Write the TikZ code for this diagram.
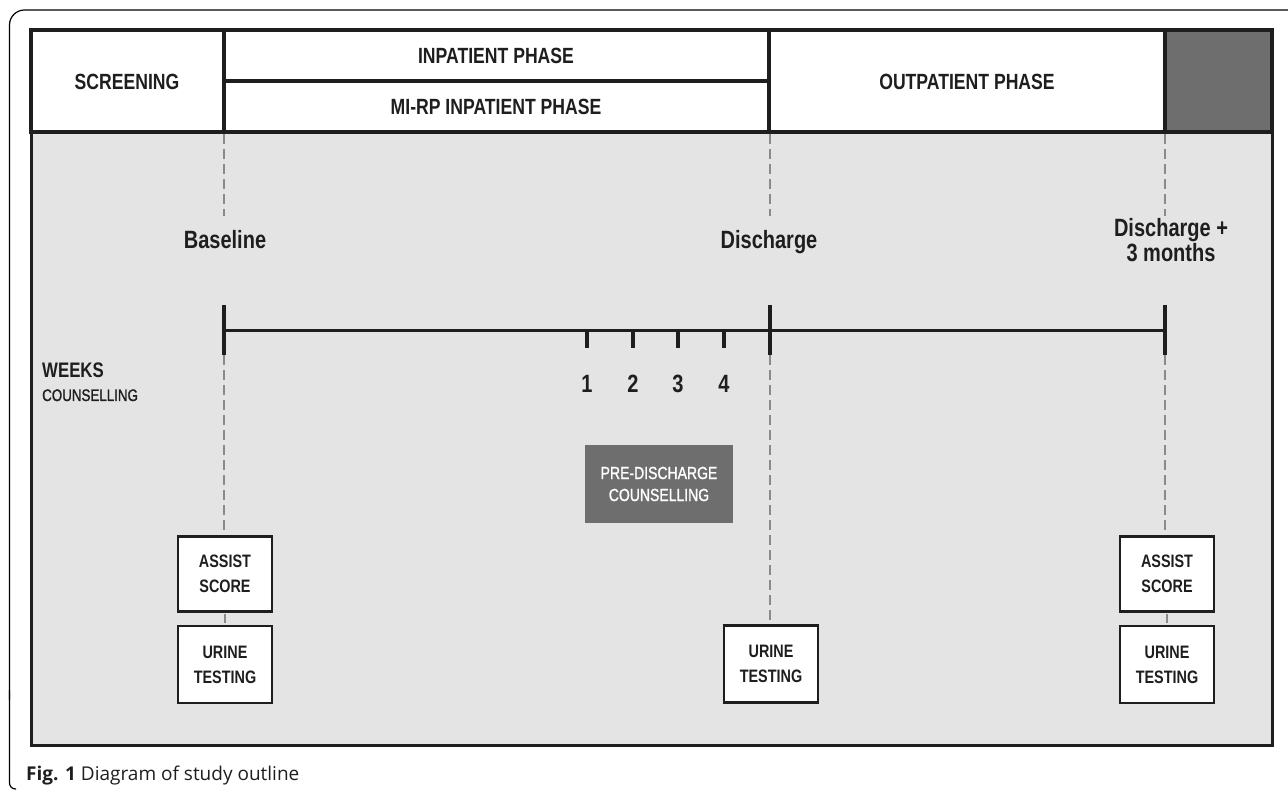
\documentclass[tikz,border=0pt]{standalone}
\usepackage{fontspec}
\setmainfont{Liberation Sans}[FakeStretch=0.8]
\newfontfamily\mediumfont{Liberation Sans}[FakeStretch=0.8,FakeBold=1.2]
\newfontfamily\captionfont{Open Sans}
\usetikzlibrary{positioning}
\definecolor{panel}{HTML}{E4E4E4}
\definecolor{darkcell}{HTML}{6E6E6E}
\definecolor{guidegray}{HTML}{8A8A8A}
\definecolor{ink}{HTML}{1E1E1E}

\begin{document}
\begin{tikzpicture}[x=1pt,y=-1pt,
  headtext/.style={anchor=base,text=ink,font=\fontsize{22}{26}\selectfont\bfseries},
  milestone/.style={anchor=base,align=center,text=ink,font=\fontsize{25}{25}\selectfont\bfseries},
  weeknum/.style={anchor=base,text=ink,font=\fontsize{25}{28}\selectfont\bfseries},
  testbox/.style={draw=ink,line width=2.8pt,fill=white,minimum width=94pt,minimum height=75pt,
    align=center,text=ink,font=\fontsize{18}{25}\selectfont\bfseries},
  guide/.style={draw=guidegray,line width=2pt,dash pattern=on 10pt off 5pt}]
\useasboundingbox (0,0) rectangle (1288,791);

% page frame
\draw[line width=1.2pt,rounded corners=15pt] (1288,10) -- (9.5,10) -- (9.5,700);
\draw[line width=1.2pt,rounded corners=6pt] (9.5,690) -- (9.5,789) -- (16,789);

% panels
\fill[panel] (31,132) rectangle (1272,745);
\fill[white] (31,30) rectangle (1165,132);
\fill[darkcell] (1165,30) rectangle (1272,132);
\draw[ink,line width=3pt] (31,132) rectangle (1272,745);
\draw[ink,line width=4pt] (31,30) rectangle (1272,132)
  (224,30) -- (224,132) (769,30) -- (769,132) (1165,30) -- (1165,132)
  (224,81) -- (769,81);

% phase headings
\node[headtext] (screen) at (127,90) {SCREENING};
\node[headtext] (inpat) at (496,64) {INPATIENT PHASE};
\node[headtext] (mirp) at (496,115) {MI-RP INPATIENT PHASE};
\node[headtext] (outpat) at (967,90) {OUTPATIENT PHASE};

% milestones
\node[milestone] (baseline) at (225,249) {Baseline};
\node[milestone] (discharge) at (769,249) {Discharge};
\node[milestone] (followup) at (1171,262) {Discharge +\\3 months};

% timeline
\coordinate (tBase) at (224,331);
\coordinate (tDis) at (770,331);
\coordinate (tEnd) at (1165,331);
\draw[ink,line width=3pt] (tBase) -- (tEnd);
\foreach \c in {tBase,tDis,tEnd}
  \draw[ink,line width=4.5pt] (\c) ++(0,-26) -- ++(0,50);
\foreach \x/\n in {587/1,633/2,678/3,724/4}{
  \draw[ink,line width=4pt] (\x,331) -- (\x,348);
  \node[weeknum] (wk\n) at (\x,393) {\n};
}

% row labels
\node[anchor=base west,inner sep=0,text=ink,font=\fontsize{21}{24}\selectfont\bfseries] (weeks) at (42,378) {WEEKS};
\node[anchor=base west,inner sep=0,text=ink,font=\mediumfont\fontsize{16.7}{20}\selectfont] (counsel) at (42,401) {COUNSELLING};

% counselling block
\node[fill=darkcell,minimum width=148pt,minimum height=78pt,align=center,text=white,
  font=\mediumfont\fontsize{17.5}{22}\selectfont] (predis) at (659,484) {PRE-DISCHARGE\\COUNSELLING};

% guides above the timeline
\draw[guide] (224,134) -- (224,216) (770,134) -- (770,216) (1165,134) -- (1165,216);

% assessments
\node[testbox] (assistA) at (225,574) {ASSIST\\SCORE};
\node[testbox,minimum height=77pt] (urineA) at (225,664.5) {URINE\\TESTING};
\node[testbox,minimum height=77pt] (urineB) at (771,664) {URINE\\TESTING};
\node[testbox] (assistC) at (1167,574) {ASSIST\\SCORE};
\node[testbox,minimum height=77pt] (urineC) at (1167,664.5) {URINE\\TESTING};

% guides below the timeline
\draw[guide,shorten >=1.4pt] ([yshift=-24pt]tBase) -- (tBase |- assistA.north);
\draw[guide,shorten <=1.4pt,shorten >=1.4pt] (assistA.south) -- (urineA.north);
\draw[guide,shorten >=1.4pt] ([yshift=-24pt]tDis) -- (tDis |- urineB.north);
\draw[guide,shorten >=1.4pt] ([yshift=-24pt]tEnd) -- (tEnd |- assistC.north);
\draw[guide,shorten <=1.4pt,shorten >=1.4pt] (assistC.south) -- (urineC.north);

% caption
\node[anchor=base west,inner sep=0,text=ink,font=\captionfont\fontsize{19}{22}\selectfont] (caption) at (26,780)
  {\textbf{Fig. 1} Diagram of study outline};
\end{tikzpicture}
\end{document}
